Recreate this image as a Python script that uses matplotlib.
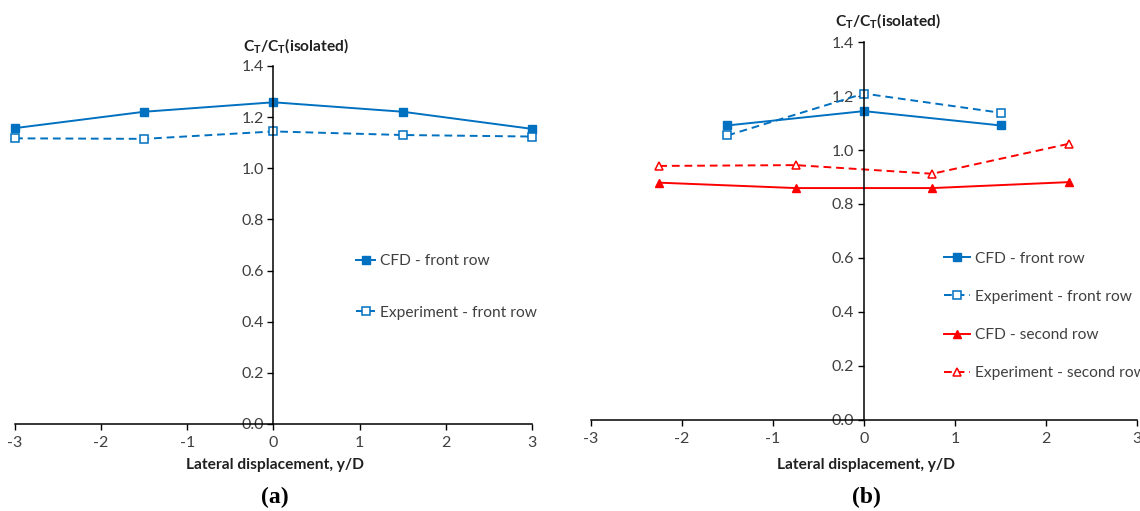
import numpy as np
import matplotlib.pyplot as plt
from matplotlib import transforms

plt.rcParams['font.family'] = ['Lato', 'DejaVu Sans']
plt.rcParams['mathtext.default'] = 'regular'

# (a) single row of turbines, lateral offsets
xa = [-3, -1.5, 0, 1.5, 3]
cfd_front_a = [1.157, 1.221, 1.258, 1.221, 1.154]
exp_front_a = [1.117, 1.115, 1.144, 1.130, 1.124]

# (b) staggered front and second rows
xb_front = [-1.5, 0, 1.5]
cfd_front_b = [1.091, 1.144, 1.091]
exp_front_b = [1.054, 1.209, 1.138]
xb_second = [-2.25, -0.75, 0.75, 2.25]
cfd_second_b = [0.879, 0.859, 0.859, 0.881]
exp_second_b = [0.941, 0.944, 0.912, 1.023]

xticks = [-3, -2, -1, 0, 1, 2, 3]
yticks = [0.0, 0.2, 0.4, 0.6, 0.8, 1.0, 1.2, 1.4]

blue = '#0070C0'
red = '#FF0000'
grey = '#404040'
dash = (0, (4, 2.5))
fs = 11.2

fig = plt.figure(figsize=(11.4, 5.11), dpi=100)
axa = fig.add_axes([0.01316, 0.1703, 0.4535, 0.7006])
axb = fig.add_axes([0.5184, 0.1781, 0.4790, 0.7397])


def style_axis(ax):
    ax.set_xlim(-3, 3)
    ax.set_ylim(0, 1.4)
    ax.spines['top'].set_visible(False)
    ax.spines['right'].set_visible(False)
    ax.spines['left'].set_position(('data', 0))
    for s in ('left', 'bottom'):
        ax.spines[s].set_linewidth(1.1)
        ax.spines[s].set_color('black')
    ax.set_xticks(xticks)
    ax.set_xticklabels([str(t) for t in xticks])
    ax.set_yticks(yticks)
    ax.set_yticklabels([f'{t:.1f}' for t in yticks])
    ax.tick_params(axis='both', direction='out', length=4, width=1,
                   labelsize=11.5, labelcolor=grey, pad=3)
    ax.tick_params(axis='x', pad=5)
    ax.patch.set_alpha(0)
    trans = transforms.blended_transform_factory(ax.transData, ax.transAxes)
    ax.text(0.26, 1.058, 'C$_T$/C$_T$(isolated)', transform=trans,
            ha='center', va='center', fontsize=fs, fontweight='bold',
            color='#202020')


style_axis(axa)
style_axis(axb)

axa.plot(xa, cfd_front_a, color=blue, lw=1.4, marker='s', ms=5.5,
         label='CFD - front row', clip_on=False)
axa.plot(xa, exp_front_a, color=blue, lw=1.4, ls=dash, marker='s', ms=5.5,
         mfc='white', mew=1.1, label='Experiment - front row', clip_on=False)
axa.legend(loc='upper left', bbox_to_anchor=(0.66, 0.474), frameon=False,
           fontsize=fs, labelspacing=2.4, handlelength=1.2,
           handletextpad=0.3, borderpad=0, borderaxespad=0,
           labelcolor=grey)

axb.plot(xb_front, cfd_front_b, color=blue, lw=1.4, marker='s', ms=5.5,
         label='CFD - front row')
axb.plot(xb_front, exp_front_b, color=blue, lw=1.4, ls=dash, marker='s',
         ms=5.5, mfc='white', mew=1.1, label='Experiment - front row')
axb.plot(xb_second, cfd_second_b, color=red, lw=1.4, marker='^', ms=6,
         label='CFD - second row')
axb.plot(xb_second, exp_second_b, color=red, lw=1.4, ls=dash, marker='^',
         ms=6, mfc='white', mew=1.1, label='Experiment - second row')
axb.legend(loc='upper left', bbox_to_anchor=(0.646, 0.445), frameon=False,
           fontsize=fs, labelspacing=1.55, handlelength=1.7,
           handletextpad=0.3, borderpad=0, borderaxespad=0,
           labelcolor=grey)

for xc in (0.241, 0.76):
    fig.text(xc, 0.09, 'Lateral displacement, y/D', ha='center', va='center',
             fontsize=fs, fontweight='bold', color='#202020')
fig.text(0.241, 0.027, '(a)', ha='center', va='center', fontsize=17,
         fontweight='bold', family='Liberation Serif')
fig.text(0.76, 0.027, '(b)', ha='center', va='center', fontsize=17,
         fontweight='bold', family='Liberation Serif')

fig.savefig('out.png', dpi=100)
